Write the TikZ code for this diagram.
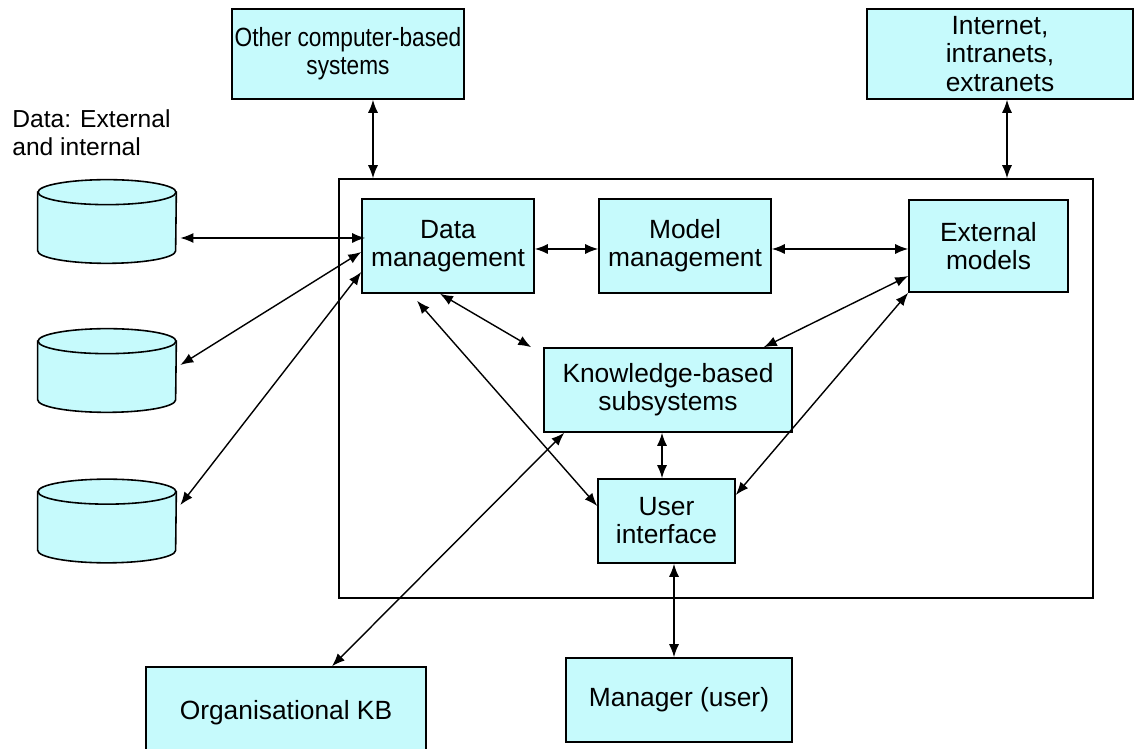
\documentclass[tikz,border=0pt]{standalone}
\usepackage{fontspec}
\setmainfont{Liberation Sans}
\newfontfamily\narrowsans[FakeStretch=0.86]{Liberation Sans}
\usepackage{tikz}
\usetikzlibrary{arrows.meta}

\definecolor{boxcyan}{RGB}{198,250,252}

\begin{document}
\begin{tikzpicture}[
    x=0.02cm, y=-0.02cm,
    >={Latex[length=2.6mm,width=2mm]},
    box style/.style={draw, line width=0.9pt, fill=boxcyan, align=center, inner sep=2pt, font=\fontsize{15}{16}\selectfont},
    frame style/.style={draw, line width=0.9pt, inner sep=0pt},
    db box/.style={inner sep=0pt, minimum width=2.76cm, minimum height=1.66cm},
    db style/.style={draw, line width=0.9pt, fill=boxcyan},
    link style/.style={line width=0.8pt, <->}
]

\useasboundingbox (0,0) rectangle (1137,749);

% Draw the outer system frame
\node[frame style, minimum width=15.08cm, minimum height=8.38cm] (dss) at (716,388.5) {};

% Draw the boxes
\node[box style, minimum width=4.64cm, minimum height=1.8cm, inner xsep=0pt, font=\narrowsans\fontsize{15}{16}\selectfont] (other) at (348,54) {Other computer-based\\systems};
\node[box style, minimum width=5.32cm, minimum height=1.8cm] (inet) at (1000,54) {Internet,\\intranets,\\extranets};
\node[box style, minimum width=3.44cm, minimum height=1.88cm] (dm) at (448,246) {Data\\management};
\node[box style, minimum width=3.44cm, minimum height=1.88cm] (mm) at (685,246) {Model\\management};
\node[box style, minimum width=3.18cm, minimum height=1.84cm] (em) at (988.5,246) {External\\models};
\node[box style, minimum width=4.96cm, minimum height=1.68cm] (kbs) at (668,390) {Knowledge-based\\subsystems};
\node[box style, minimum width=2.74cm, minimum height=1.68cm] (ui) at (666.5,521) {User\\interface};
\node[box style, minimum width=4.52cm, minimum height=1.68cm] (mgr) at (679,700) {Manager (user)};
\node[box style, minimum width=5.6cm, minimum height=1.84cm] (org) at (286,713) {Organisational KB};

% Draw the databases
\node[align=left, anchor=west, inner sep=0pt, font=\fontsize{14}{16}\selectfont] (datalabel) at (12,133) {Data: External\\and internal};
\foreach \n/\y in {1/221.5, 2/370.5, 3/521} {
    \node[db box] (db\n) at (107,\y) {};
    \path[db style] ([yshift=-0.25cm]db\n.north west) -- ([yshift=0.25cm]db\n.south west)
        arc[start angle=180, end angle=360, x radius=1.38cm, y radius=0.25cm]
        -- ([yshift=-0.25cm]db\n.north east) -- cycle;
    \draw[db style] ([yshift=-0.25cm]db\n.north) ellipse[x radius=1.38cm, y radius=0.25cm];
}

% Draw the connections
\draw[link style] ([xshift=0.5cm]other.south) -- ([xshift=0.5cm]other.south |- dss.north);
\draw[link style] ([xshift=0.14cm]inet.south) -- ([xshift=0.14cm]inet.south |- dss.north);
\draw[link style] ([xshift=0.08cm, yshift=-0.33cm]db1.east) -- ([xshift=0.08cm, yshift=-0.33cm]db1.east -| dm.west);
\draw[link style] ([xshift=0.08cm, yshift=0.11cm]db2.east) -- ([yshift=-0.12cm]dm.west);
\draw[link style] ([xshift=0.08cm, yshift=0.32cm]db3.east) -- ([yshift=-0.52cm]dm.west);
\draw[link style] ([yshift=-0.06cm]dm.east) -- ([yshift=-0.06cm]mm.west);
\draw[link style] ([yshift=-0.06cm]mm.east) -- ([yshift=-0.06cm]em.west);
\draw[link style] ([xshift=-0.16cm]dm.south) -- ([xshift=-0.24cm]kbs.north west);
\draw[link style] ([xshift=-0.62cm, yshift=-0.14cm]dm.south) -- ([yshift=0.3cm]ui.west);
\draw[link style] ([yshift=-0.6cm]em.west) -- ([xshift=-0.58cm]kbs.north east);
\draw[link style] (em.south west) -- ([yshift=0.52cm]ui.east);
\draw[link style] ([xshift=-0.09cm]ui.north |- kbs.south) -- ([xshift=-0.09cm]ui.north);
\draw[link style] ([xshift=-0.1cm]mgr.north |- ui.south) -- ([xshift=-0.1cm]mgr.north);
\draw[link style] ([xshift=0.42cm]kbs.south west) -- ([xshift=0.92cm]org.north);
\end{tikzpicture}
\end{document}
